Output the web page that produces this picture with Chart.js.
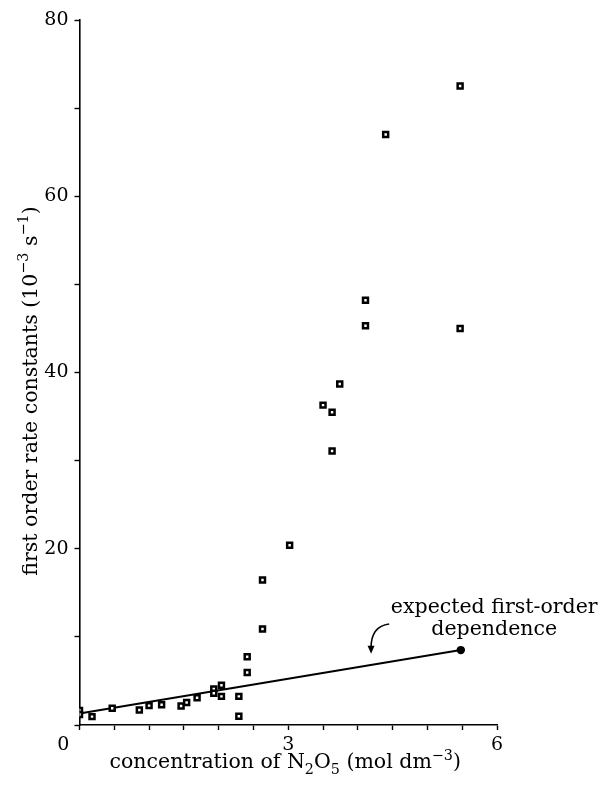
<!DOCTYPE html>
<html><head><meta charset="utf-8">
<script src="https://cdn.jsdelivr.net/npm/chart.js@4"></script>
<style>html,body{margin:0;padding:0;background:#fff}</style>
</head><body>
<canvas id="c" width="600" height="790"></canvas>
<script>
// measured first-order rate constants vs concentration
const concentration = [0, 0, 0.18, 0.47, 0.86, 1.0, 1.18, 1.46, 1.54, 1.69, 1.93, 1.93, 2.04, 2.04, 2.29, 2.29, 2.41, 2.41, 2.63, 2.63, 3.02, 3.50, 3.63, 3.63, 3.74, 4.11, 4.11, 4.40, 5.47, 5.47];
const rateConstant  = [1.65, 1.2, 0.95, 1.9, 1.7, 2.2, 2.3, 2.15, 2.55, 3.1, 4.1, 3.6, 4.5, 3.25, 3.25, 1.0, 7.75, 5.95, 10.9, 16.45, 20.4, 36.3, 35.5, 31.1, 38.7, 45.3, 48.2, 67.0, 72.5, 45.0];
// expected first-order dependence line
const expectedX = [0, 5.48];
const expectedY = [1.3, 8.5];
// axes
const xRange = [0, 6];
const yRange = [0, 80];
const xLabelled = [0, 3, 6];
const yLabelled = [20, 40, 60, 80];
// annotation (data units)
const annotationLines = ['expected first-order', 'dependence'];
const annotationAnchor = [5.96, 12.7];
const arrowStart = [4.45, 11.46];
const arrowCtrl = [4.19, 11.2];
const arrowEnd = [4.19, 8.3];

const FONT = "'DejaVu Serif', 'Liberation Serif', serif";
const TITLE_SIZE = 20.5;

function richText(ctx, segs, size, x, y, align) {
  let total = 0;
  const parts = segs.map(s => {
    const fs = s.s ? size * 0.7 : size;
    ctx.font = fs + 'px ' + FONT;
    const w = ctx.measureText(s.t).width;
    total += w;
    return {t: s.t, fs, w, dy: s.s === -1 ? size * 0.28 : (s.s === 1 ? -size * 0.4 : 0)};
  });
  let cx = align === 'center' ? x - total / 2 : x;
  ctx.textAlign = 'left';
  ctx.textBaseline = 'alphabetic';
  parts.forEach(p => {
    ctx.font = p.fs + 'px ' + FONT;
    ctx.fillText(p.t, cx, y + p.dy);
    cx += p.w;
  });
}

const decor = {
  id: 'decor',
  afterDraw(chart) {
    const {ctx, chartArea, scales} = chart;
    const xs = scales.x, ys = scales.y;
    ctx.save();
    ctx.fillStyle = '#000';
    ctx.strokeStyle = '#000';
    // x title
    richText(ctx, [
      {t: 'concentration of N'}, {t: '2', s: -1}, {t: 'O'}, {t: '5', s: -1},
      {t: ' (mol dm'}, {t: '\u22123', s: 1}, {t: ')'}
    ], TITLE_SIZE, (chartArea.left + chartArea.right) / 2 - 3, chartArea.bottom + 43, 'center');
    // y title
    ctx.save();
    ctx.translate(chartArea.left - 43, chartArea.bottom - 334);
    ctx.rotate(-Math.PI / 2);
    richText(ctx, [
      {t: 'first order rate constants (10'}, {t: '\u22123', s: 1}, {t: ' s'}, {t: '\u22121', s: 1}, {t: ')'}
    ], TITLE_SIZE, 0, 0, 'center');
    ctx.restore();
    // annotation text
    ctx.font = TITLE_SIZE + 'px ' + FONT;
    ctx.textAlign = 'center';
    ctx.textBaseline = 'alphabetic';
    const ax = xs.getPixelForValue(annotationAnchor[0]);
    const ay = ys.getPixelForValue(annotationAnchor[1]);
    ctx.fillText(annotationLines[0], ax, ay);
    ctx.fillText(annotationLines[1], ax, ay + 22);
    // arrow
    const sx = xs.getPixelForValue(arrowStart[0]), sy = ys.getPixelForValue(arrowStart[1]);
    const qx = xs.getPixelForValue(arrowCtrl[0]), qy = ys.getPixelForValue(arrowCtrl[1]);
    const ex = xs.getPixelForValue(arrowEnd[0]), ey = ys.getPixelForValue(arrowEnd[1]);
    ctx.lineWidth = 1.6;
    ctx.beginPath();
    ctx.moveTo(sx, sy);
    ctx.quadraticCurveTo(qx, qy, ex, ey - 4);
    ctx.stroke();
    ctx.beginPath();
    ctx.moveTo(ex, ey + 2);
    ctx.lineTo(ex - 3.5, ey - 6);
    ctx.lineTo(ex + 3.5, ey - 6);
    ctx.closePath();
    ctx.fill();
    ctx.restore();
  }
};

const measured = concentration.map((x, i) => ({x, y: rateConstant[i]}));
const expected = expectedX.map((x, i) => ({x, y: expectedY[i]}));

new Chart(document.getElementById('c'), {
  type: 'scatter',
  data: {
    datasets: [
      {
        label: 'measured',
        data: measured,
        pointStyle: 'rect',
        pointRadius: 3.5,
        pointBorderWidth: 2.5,
        pointBorderColor: '#000',
        pointBackgroundColor: '#fff',
        showLine: false,
        order: 0
      },
      {
        label: 'expected first-order dependence',
        data: expected,
        showLine: true,
        borderColor: '#000',
        borderWidth: 2,
        pointRadius: [0, 3.2],
        pointStyle: 'circle',
        pointBackgroundColor: '#000',
        pointBorderColor: '#000',
        order: 1
      }
    ]
  },
  options: {
    responsive: false,
    animation: false,
    devicePixelRatio: 1,
    layout: {padding: {left: 0, top: 20, right: 103, bottom: 0}},
    plugins: {legend: {display: false}, tooltip: {enabled: false}},
    scales: {
      x: {
        type: 'linear',
        min: xRange[0], max: xRange[1],
        afterFit: s => { s.height = 65; },
        border: {display: true, color: '#000', width: 1.6},
        grid: {drawOnChartArea: false, drawTicks: true, tickLength: 5, tickColor: '#000', tickWidth: 1.4},
        ticks: {
          stepSize: 0.5, autoSkip: false, maxRotation: 0, padding: 4,
          color: '#000', font: {family: FONT, size: 19},
          callback: v => xLabelled.includes(v) ? (v === 0 ? '0\u2003\u2002\u2009' : String(v)) : ''
        }
      },
      y: {
        type: 'linear',
        min: yRange[0], max: yRange[1],
        afterFit: s => { s.width = 79.5; },
        border: {display: true, color: '#000', width: 1.6},
        grid: {drawOnChartArea: false, drawTicks: true, tickLength: 5, tickColor: '#000', tickWidth: 1.4},
        ticks: {
          stepSize: 10, autoSkip: false, padding: 6,
          color: '#000', font: {family: FONT, size: 19},
          callback: v => yLabelled.includes(v) ? String(v) : ''
        }
      }
    }
  },
  plugins: [decor]
});
</script>
</body></html>
